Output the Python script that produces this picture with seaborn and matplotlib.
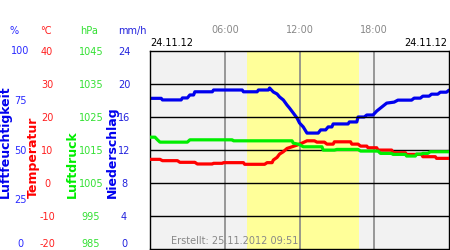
import matplotlib
matplotlib.use("Agg")
import matplotlib.pyplot as plt
import matplotlib.transforms as mtransforms
import seaborn as sns
import pandas as pd

# ---------------- data ----------------
hum_hours = [0.0, 0.9, 1.0, 2.5, 2.6, 3.0, 3.2, 3.5, 3.6, 5.0, 5.1, 7.4, 7.5, 8.6, 8.7, 9.5, 9.6,
             9.9, 10.2, 10.4, 10.7, 11.0, 11.2, 11.5, 11.8, 12.0, 12.3, 12.6, 13.5, 13.7, 14.1,
             14.3, 14.6, 14.7, 15.9, 16.0, 16.6, 16.7, 17.2, 17.4, 17.9, 18.2, 18.6, 19.0, 19.6,
             19.9, 21.0, 21.2, 21.7, 21.9, 22.4, 22.6, 23.1, 23.3, 23.8, 24.0]
hum_values = [75.9, 75.9, 75.1, 75.1, 76.1, 76.1, 77.6, 77.6, 79.2, 79.2, 80.1, 80.1, 79.2, 79.2,
              80.1, 80.1, 81.1, 79.1, 78.1, 76.6, 75.1, 72.5, 71.0, 68.5, 66.0, 63.5, 61.5, 58.4,
              58.4, 60.0, 60.0, 61.5, 61.5, 63.0, 63.0, 64.0, 64.0, 66.5, 66.5, 67.5, 67.5, 69.5,
              71.5, 73.5, 74.0, 75.0, 75.0, 76.0, 76.0, 77.0, 77.0, 78.0, 78.0, 79.0, 79.0, 80.0]

temp_hours = [0.0, 0.8, 1.0, 2.2, 2.4, 3.6, 3.8, 5.0, 5.1, 5.8, 5.9, 7.5, 7.6, 9.2, 9.4, 9.8, 9.9,
              10.2, 10.4, 10.7, 11.0, 11.4, 11.8, 12.2, 12.6, 13.2, 13.4, 14.0, 14.2, 14.7, 14.8,
              16.1, 16.2, 16.7, 16.9, 17.4, 17.5, 18.2, 18.3, 19.4, 19.5, 20.5, 20.6, 21.8, 21.9,
              22.9, 23.0, 24.0]
temp_values = [7.1, 7.1, 6.7, 6.7, 6.2, 6.2, 5.7, 5.7, 5.9, 5.9, 6.1, 6.1, 5.6, 5.6, 6.1, 6.1, 6.9,
               7.7, 8.7, 9.4, 10.4, 10.9, 11.4, 12.0, 12.7, 12.7, 12.3, 12.3, 11.7, 11.7, 12.4,
               12.4, 11.7, 11.7, 11.1, 11.1, 10.6, 10.6, 9.9, 9.9, 9.1, 9.1, 8.6, 8.6, 7.9, 7.9,
               7.4, 7.4]

pres_hours = [0.0, 0.4, 0.6, 0.8, 3.0, 3.2, 6.6, 6.7, 11.4, 11.5, 12.0, 12.3, 13.8, 13.9, 14.8,
              15.0, 16.7, 16.9, 18.3, 18.5, 19.4, 19.5, 20.5, 20.6, 21.3, 21.4, 21.8, 21.9, 22.3,
              22.5, 24.0]
pres_values = [1018.8, 1018.8, 1018.0, 1017.3, 1017.3, 1018.0, 1018.0, 1017.7, 1017.7, 1017.0,
               1016.6, 1015.9, 1015.9, 1014.9, 1014.9, 1015.1, 1015.1, 1014.6, 1014.6, 1013.9,
               1013.9, 1013.6, 1013.6, 1013.1, 1013.1, 1013.7, 1013.7, 1013.9, 1013.9, 1014.4,
               1014.4]

hum_ticks = [0, 25, 50, 75, 100]
temp_ticks = [-20, -10, 0, 10, 20, 30, 40]
pres_ticks = [985, 995, 1005, 1015, 1025, 1035, 1045]
rain_ticks = [0, 4, 8, 12, 16, 20, 24]
time_ticks = [6, 12, 18]
time_labels = ["06:00", "12:00", "18:00"]
daylight = (7.8, 16.8)
date_label = "24.11.12"
created_label = "Erstellt: 25.11.2012 09:51"
units = ["%", "°C", "hPa", "mm/h"]
axis_titles = ["Luftfeuchtigkeit", "Temperatur", "Luftdruck", "Niederschlag"]

# ---------------- style ----------------
sns.set_style("white")
plt.rcParams["font.family"] = ["DejaVu Sans"]

BLUE = "#0000ee"
RED = "#ff0000"
GREEN = "#00ee00"

W, H = 450, 250
fig = plt.figure(figsize=(4.5, 2.5), dpi=100)
fig.patch.set_facecolor("white")

left_px, right_px, top_px, bot_px = 150, 449, 50.5, 249
rect = [left_px / W, 1 - bot_px / H, (right_px - left_px) / W, (bot_px - top_px) / H]

ax_h = fig.add_axes(rect)
ax_h.set_facecolor("#f2f2f2")
ax_h.set_xlim(0, 24)
ax_h.set_ylim(0, 100)
ax_h.axvspan(daylight[0], daylight[1], color="#ffff99", lw=0, zorder=0)
for t in time_ticks:
    ax_h.axvline(t, color="#888888", lw=1.2, zorder=1)

def make_twin(ylim):
    a = fig.add_axes(rect, sharex=ax_h, label=str(ylim))
    a.patch.set_visible(False)
    a.set_ylim(*ylim)
    for s in a.spines.values():
        s.set_visible(False)
    return a

ax_t = make_twin((-20, 40))
ax_p = make_twin((985, 1045))
ax_r = make_twin((0, 24))

# horizontal grid lines (temperature scale)
for v in temp_ticks[1:-1]:
    ax_t.axhline(v, color="black", lw=1.0, zorder=1)

# data lines
df_p = pd.DataFrame({"h": pres_hours, "v": pres_values})
df_t = pd.DataFrame({"h": temp_hours, "v": temp_values})
df_h = pd.DataFrame({"h": hum_hours, "v": hum_values})
sns.lineplot(data=df_p, x="h", y="v", ax=ax_p, color=GREEN, lw=2.3, estimator=None, sort=False)
sns.lineplot(data=df_t, x="h", y="v", ax=ax_t, color=RED, lw=2.3, estimator=None, sort=False)
sns.lineplot(data=df_h, x="h", y="v", ax=ax_h, color=BLUE, lw=2.3, estimator=None, sort=False)

for a in (ax_h, ax_t, ax_p, ax_r):
    a.set_xlabel("")
    a.set_ylabel("")
    a.set_xticks([])
    a.set_xlim(0, 24)

# frame
for s in ax_h.spines.values():
    s.set_visible(True)
    s.set_color("black")
    s.set_linewidth(1.0)
ax_h.set_zorder(0)

# y tick columns
cols = [
    (ax_h, hum_ticks, "#2a2aff", 20),
    (ax_t, temp_ticks, "#ff2020", 47),
    (ax_p, pres_ticks, "#33e033", 91),
    (ax_r, rain_ticks, "#2222dd", 124),
]
for a, ticks, col, cx in cols:
    a.yaxis.set_ticks_position("left")
    a.set_yticks(ticks)
    a.set_yticklabels([str(t) for t in ticks])
    pad = (left_px - cx) * 0.72
    a.tick_params(axis="y", length=0, pad=pad, labelsize=7, labelcolor=col)
    labs = a.get_yticklabels()
    for lab in labs:
        lab.set_horizontalalignment("center")
    labs[0].set_verticalalignment("baseline")
    labs[0].set_transform(labs[0].get_transform() +
                          mtransforms.ScaledTranslation(0, 1.5 / 72, fig.dpi_scale_trans))

# unit labels
unit_x = [14, 46, 89, 132]
unit_cols = ["#2a2aff", "#ff2020", "#33e033", "#2222dd"]
for u, x, c in zip(units, unit_x, unit_cols):
    fig.text(x / W, 1 - 31 / H, u, color=c, fontsize=7, ha="center", va="center")

# rotated axis titles
title_x = [11.5, 39.5, 78.5, 118.5]
title_cols = [BLUE, RED, GREEN, BLUE]
for t, x, c in zip(axis_titles, title_x, title_cols):
    fig.text(x / W, 1 - 198 / H, t, color=c, fontsize=9, fontweight="bold",
             rotation=90, ha="right", va="bottom")

# time labels on top
trans = mtransforms.blended_transform_factory(ax_h.transData, fig.transFigure)
for t, lab in zip(time_ticks, time_labels):
    ax_h.text(t, 1 - 30 / H, lab, transform=trans, color="#888888", fontsize=7,
              ha="center", va="center", clip_on=False)

fig.text(150 / W, 1 - 43 / H, date_label, color="black", fontsize=7, ha="left", va="center")
fig.text(447 / W, 1 - 43 / H, date_label, color="black", fontsize=7, ha="right", va="center")
fig.text(235 / W, 1 - 241 / H, created_label, color="#888888", fontsize=7, ha="center", va="center")

fig.savefig("out.png", dpi=100, facecolor="white")
